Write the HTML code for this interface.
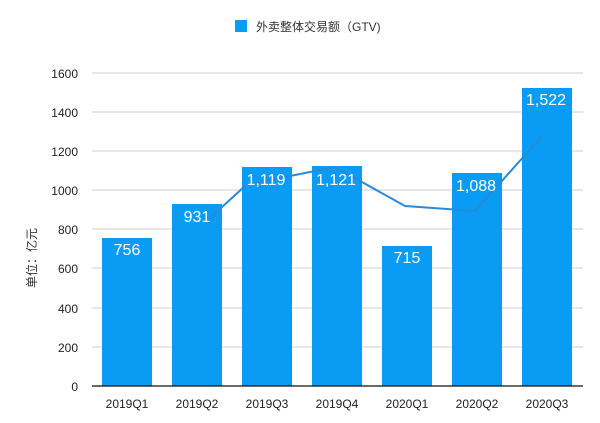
<!DOCTYPE html>
<html><head><meta charset="utf-8"><style>
body{margin:0;background:#fff;}
svg{display:block;font-family:"Liberation Sans","Noto Sans CJK SC",sans-serif;}
</style></head><body>
<svg width="600" height="423" viewBox="0 0 600 423">
<rect x="235" y="20" width="12" height="12" fill="#0a9cf4"/>
<text x="256" y="31" font-size="12" fill="#333">外卖整体交易额（GTV)</text>
<g stroke="#ccc" stroke-width="1">
<line x1="92" y1="73" x2="583" y2="73"/>
<line x1="92" y1="112" x2="583" y2="112"/>
<line x1="92" y1="151" x2="583" y2="151"/>
<line x1="92" y1="190" x2="583" y2="190"/>
<line x1="92" y1="229" x2="583" y2="229"/>
<line x1="92" y1="268" x2="583" y2="268"/>
<line x1="92" y1="308" x2="583" y2="308"/>
<line x1="92" y1="347" x2="583" y2="347"/>
</g>
<g font-size="12" fill="#222" text-anchor="end">
<text x="78" y="78">1600</text><text x="78" y="117">1400</text><text x="78" y="156">1200</text>
<text x="78" y="195">1000</text><text x="78" y="234">800</text><text x="78" y="273">600</text>
<text x="78" y="313">400</text><text x="78" y="352">200</text><text x="78" y="391">0</text>
</g>
<text transform="translate(36,258) rotate(-90)" font-size="12" fill="#333" text-anchor="middle">单位：亿元</text>
<g fill="#0a9cf4">
<rect x="102" y="238" width="50" height="148"/>
<rect x="172" y="204" width="50" height="182"/>
<rect x="242" y="167" width="50" height="219"/>
<rect x="312" y="166" width="50" height="220"/>
<rect x="382" y="246" width="50" height="140"/>
<rect x="452" y="173" width="50" height="213"/>
<rect x="522" y="88" width="50" height="298"/>
</g>
<polyline points="210,218 245,186 270,180 335,167 405,206 475,211 543,135" fill="none" stroke="#2a8ad8" stroke-width="2"/>
<g font-size="16" fill="#fff" text-anchor="middle">
<text x="127" y="255">756</text><text x="197" y="222">931</text><text x="266" y="185">1,119</text>
<text x="336" y="185">1,121</text><text x="407" y="263">715</text><text x="476" y="191">1,088</text>
<text x="546" y="105">1,522</text>
</g>
<line x1="92" y1="386" x2="583" y2="386" stroke="#111" stroke-width="1.2"/>
<g font-size="12" fill="#222" text-anchor="middle">
<text x="127" y="408">2019Q1</text><text x="197" y="408">2019Q2</text><text x="267" y="408">2019Q3</text>
<text x="337" y="408">2019Q4</text><text x="407" y="408">2020Q1</text><text x="477" y="408">2020Q2</text>
<text x="547" y="408">2020Q3</text>
</g>
</svg>
</body></html>
